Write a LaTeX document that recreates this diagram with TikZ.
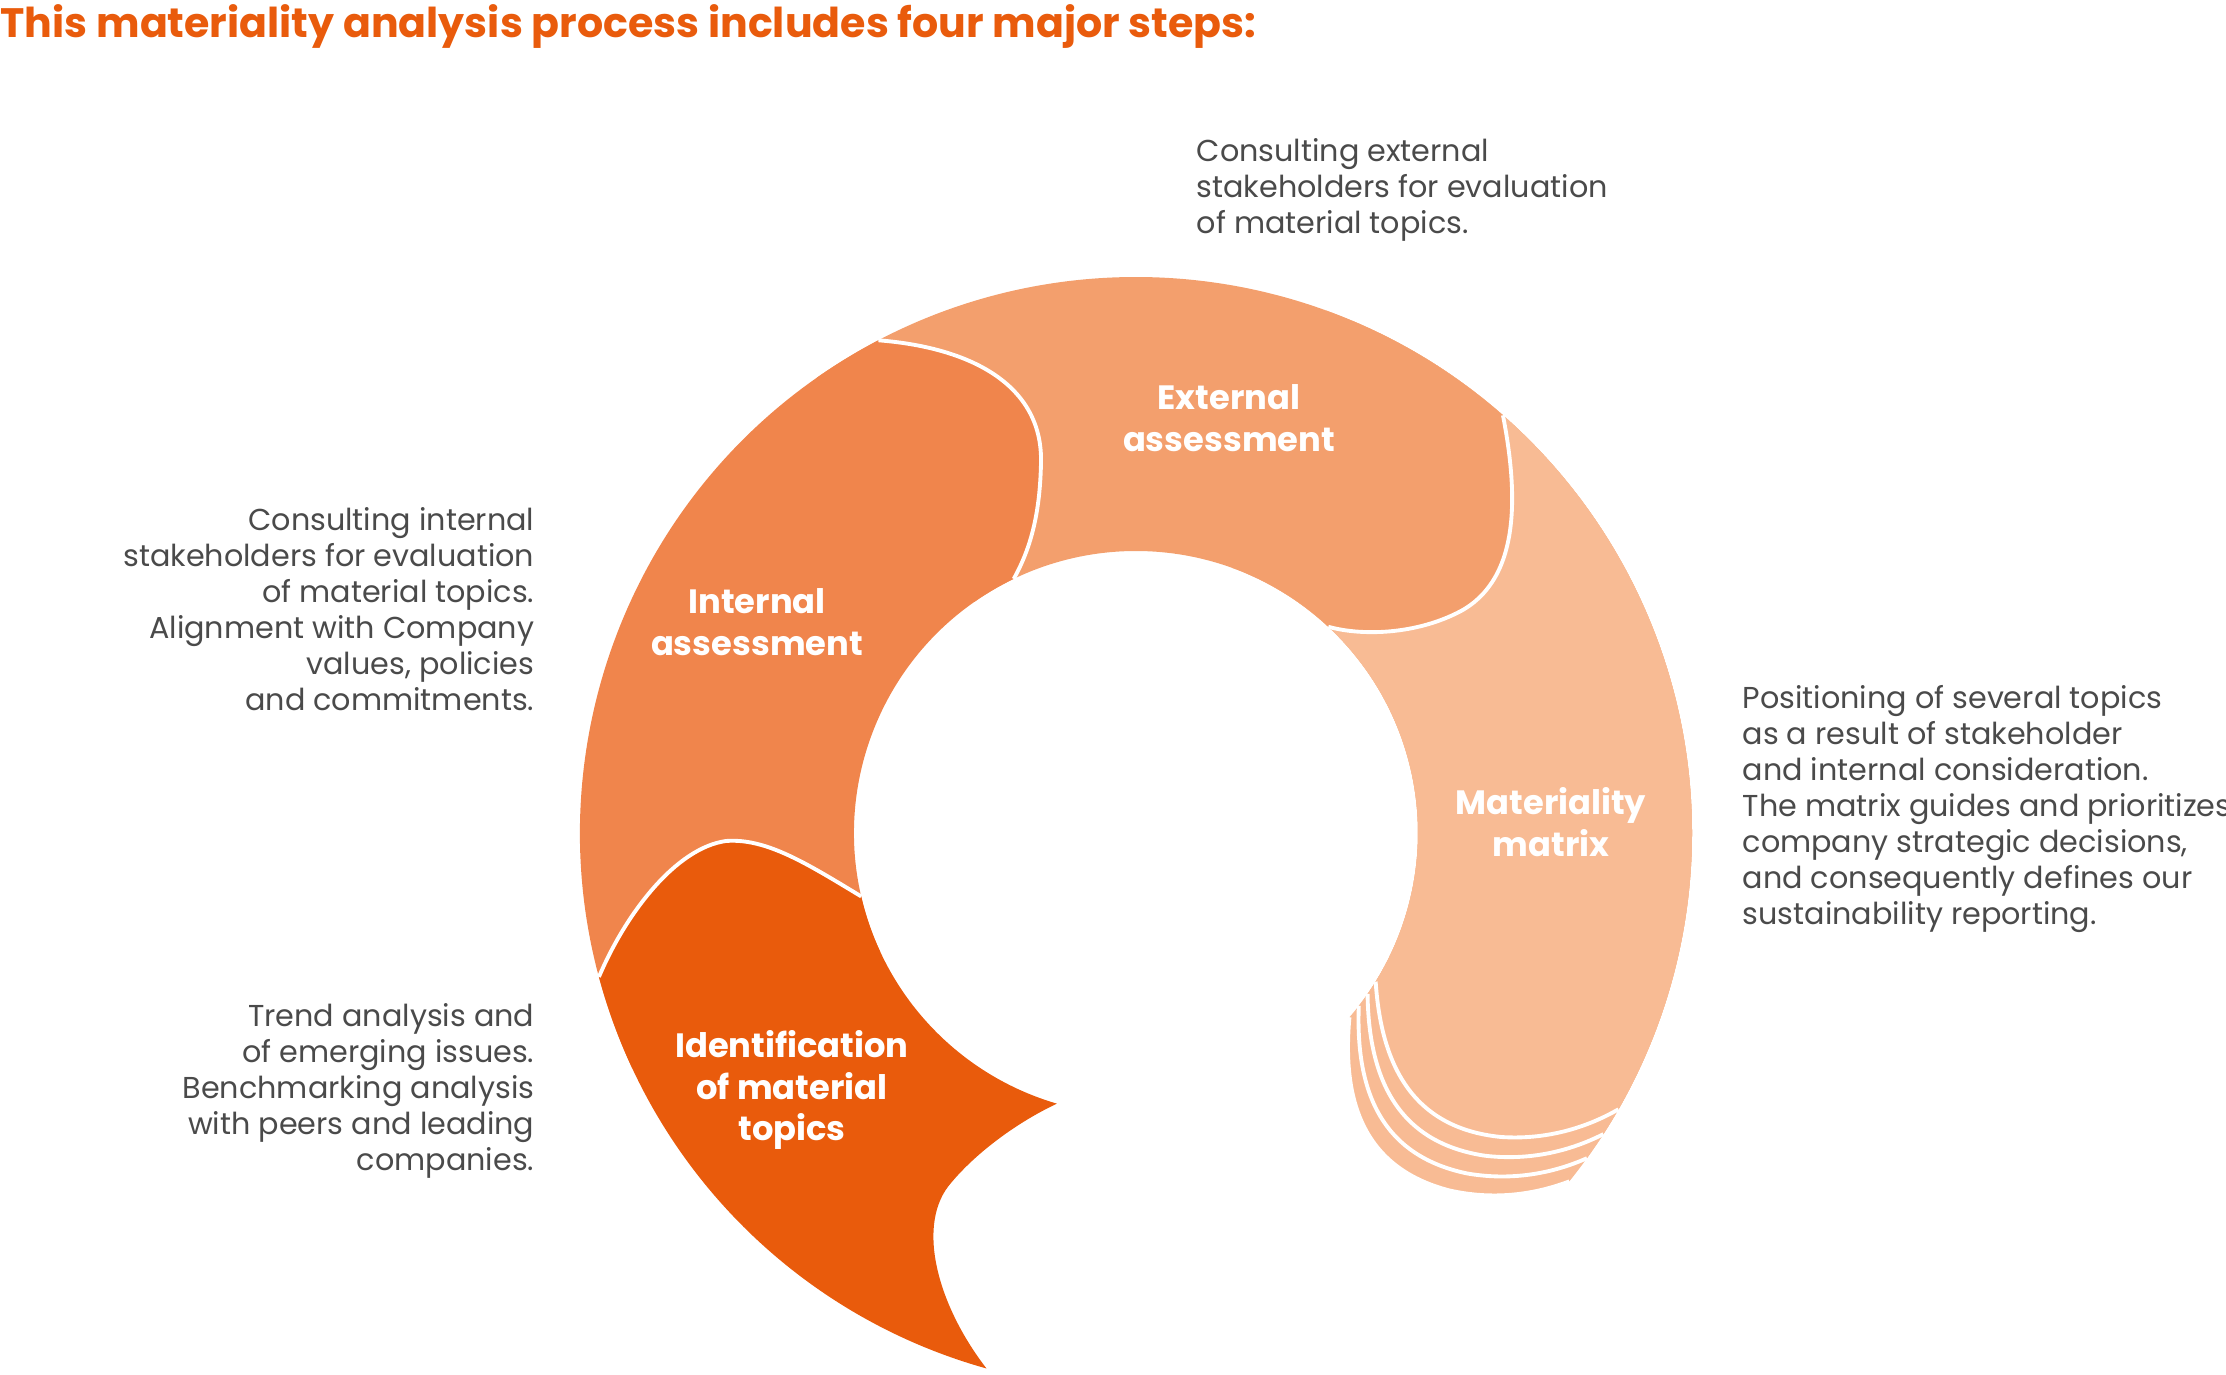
\documentclass[tikz,border=0pt]{standalone}
\usepackage{fontspec}
\usepackage{tikz}
\setmainfont{Poppins}
\definecolor{idorange}{HTML}{E95B0C}
\definecolor{intorange}{HTML}{F0854C}
\definecolor{extorange}{HTML}{F39F6D}
\definecolor{matorange}{HTML}{F8BB94}
\definecolor{notegray}{HTML}{4A4A4A}
\tikzset{
  capline/.style={white, line width=1.1pt},
  steplabel/.style={white, align=center, font=\bfseries\fontsize{9.6}{11.8}\selectfont},
  notetext/.style={notegray, font=\fontsize{8.6}{10.25}\selectfont}
}
\begin{document}
\begin{tikzpicture}
    \tikzstyle{every node}+=[inner sep=0pt]
    \useasboundingbox (-11.36,-5.42) rectangle (10.90,8.33);
    % materiality matrix, with its stacked sheets
    \foreach \r in {-9,-6,-3,0} {
      \begin{scope}[rotate=\r]
        \fill [matorange] (70:5.56) arc (70:-29.8:5.56) .. controls (4.5,-2.95) and (4.1,-3.07) .. (3.65,-3.04) .. controls (2.75,-2.95) and (2.45,-2.3) .. (-31.8:2.82) arc (-31.8:70:2.82) -- cycle;
        \draw [capline] (-29.8:5.56) .. controls (4.5,-2.95) and (4.1,-3.07) .. (3.65,-3.04) .. controls (2.75,-2.95) and (2.45,-2.3) .. (-31.8:2.82);
      \end{scope}
    }
    % external assessment
    \fill [extorange] (125:5.56) arc (125:48.7:5.56) .. controls (3.82,3.4) and (3.85,2.55) .. (3.25,2.22) .. controls (2.8,1.98) and (2.25,1.97) .. (47:2.82) arc (47:125:2.82) -- cycle;
    \draw [capline] (48.7:5.56) .. controls (3.82,3.4) and (3.85,2.55) .. (3.25,2.22) .. controls (2.8,1.98) and (2.25,1.97) .. (47:2.82);
    % internal assessment
    \fill [intorange] (205:5.56) arc (205:117.6:5.56) .. controls (-1.6,4.85) and (-0.93,4.45) .. (-0.95,3.7) .. controls (-0.96,3.2) and (-1.05,2.85) .. (115.7:2.82) arc (115.7:205:2.82) -- cycle;
    \draw [capline] (117.6:5.56) .. controls (-1.6,4.85) and (-0.93,4.45) .. (-0.95,3.7) .. controls (-0.96,3.2) and (-1.05,2.85) .. (115.7:2.82);
    % identification of material topics
    \fill [idorange] (195:5.56) arc (195:254.4:5.56) .. controls (-2.0,-4.7) and (-2.2,-3.9) .. (-1.85,-3.5) .. controls (-1.6,-3.2) and (-1.2,-2.9) .. (253.7:2.82) arc (253.7:193:2.82) .. controls (-3.3,-0.3) and (-3.7,-0.05) .. (-4.1,-0.08) .. controls (-4.6,-0.15) and (-5.1,-0.8) .. (195:5.56) -- cycle;
    \draw [capline] (193:2.82) .. controls (-3.3,-0.3) and (-3.7,-0.05) .. (-4.1,-0.08) .. controls (-4.6,-0.15) and (-5.1,-0.8) .. (195:5.56);
    % labels
    \node [steplabel] (extlabel) at (0.93,4.15) {External\\assessment};
    \node [steplabel] (intlabel) at (-3.79,2.11) {Internal\\assessment};
    \node [steplabel] (matlabel) at (4.15,0.11) {Materiality\\matrix};
    \node [steplabel] (idlabel) at (-3.44,-2.57) {Identification\\of material\\topics};
    % notes
    \node [notetext, align=left, anchor=north west] (extnote) at (0.60,6.95) {Consulting external\\stakeholders for evaluation\\of material topics.};
    \node [notetext, align=left, anchor=north west] (matnote) at (6.06,1.48) {Positioning of several topics\\as a result of stakeholder\\and internal consideration.\\The matrix guides and prioritizes\\company strategic decisions,\\and consequently defines our\\sustainability reporting.};
    \node [notetext, align=right, anchor=north east] (intnote) at (-6.01,3.26) {Consulting internal\\stakeholders for evaluation\\of material topics.\\Alignment with Company\\values, policies\\and commitments.};
    \node [notetext, align=right, anchor=north east] (idnote) at (-6.01,-1.70) {Trend analysis and\\of emerging issues.\\Benchmarking analysis\\with peers and leading\\companies.};
    \node [idorange, anchor=base west, font=\bfseries\fontsize{11.7}{14}\selectfont] (title) at (-11.36,7.95) {This materiality analysis process includes four major steps:};
\end{tikzpicture}
\end{document}
